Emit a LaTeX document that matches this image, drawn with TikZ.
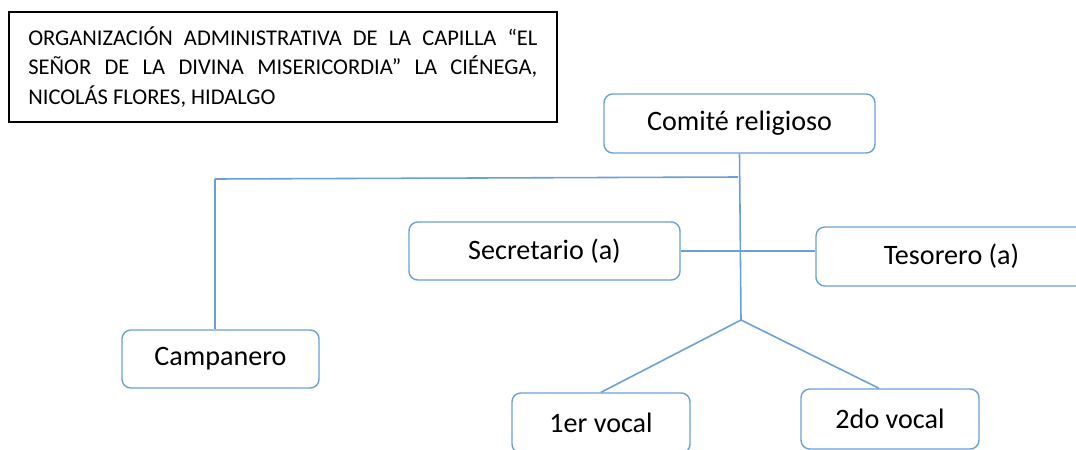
\documentclass[tikz,border=0pt]{standalone}
\usepackage{fontspec}
\setmainfont{Carlito}
\definecolor{boxblue}{HTML}{6A9FD8}
\begin{document}
\begin{tikzpicture}[x=0.02cm, y=-0.02cm,
	cargo/.style={draw=boxblue, line width=0.8pt, rounded corners=5pt, fill=white, font=\fontsize{16}{18}\selectfont},
	liga/.style={draw=boxblue, line width=0.9pt}]
			\useasboundingbox (0, 0) rectangle (1076, 450);
			\draw (283, 67) node [draw, line width=0.7pt, minimum width=548*0.02cm, minimum height=110*0.02cm, inner sep=0pt] (titulo) {};
			\draw (28, 67) node [anchor=west, text width=509*0.02cm, align=justify, inner sep=0pt, font=\fontsize{12.8}{17}\selectfont] (texto) {ORGANIZACIÓN ADMINISTRATIVA DE LA CAPILLA “EL SEÑOR DE LA DIVINA MISERICORDIA” LA CIÉNEGA, NICOLÁS FLORES, HIDALGO};
			\draw (739.5, 123.5) node [cargo, minimum width=271*0.02cm, minimum height=59*0.02cm] (comite) {Comité religioso};
			\draw (544.5, 251) node [cargo, minimum width=271*0.02cm, minimum height=58*0.02cm] (secre) {Secretario (a)};
			\draw (951.5, 256.5) node [cargo, minimum width=271*0.02cm, minimum height=59*0.02cm] (teso) {Tesorero (a)};
			\draw (220.5, 359) node [cargo, minimum width=197*0.02cm, minimum height=58*0.02cm] (campa) {Campanero};
			\draw (601, 423) node [cargo, minimum width=178*0.02cm, minimum height=60*0.02cm] (vocal1) {1er vocal};
			\draw (890, 419) node [cargo, minimum width=178*0.02cm, minimum height=60*0.02cm] (vocal2) {2do vocal};
			\coordinate (rama) at (738, 177);
			\coordinate (esquina) at (215, 179);
			\coordinate (nudo) at (741, 320);
			\path [liga] (comite.south) edge (nudo);
			\path [liga] (rama) edge (esquina);
			\path [liga] (esquina) edge (campa.north -| esquina);
			\path [liga] (secre.east) edge (secre.east -| teso.west);
			\path [liga] (nudo) edge (vocal1.north);
			\path [liga] (nudo) edge ([xshift=-11*0.02cm]vocal2.north);
		\end{tikzpicture}
\end{document}
